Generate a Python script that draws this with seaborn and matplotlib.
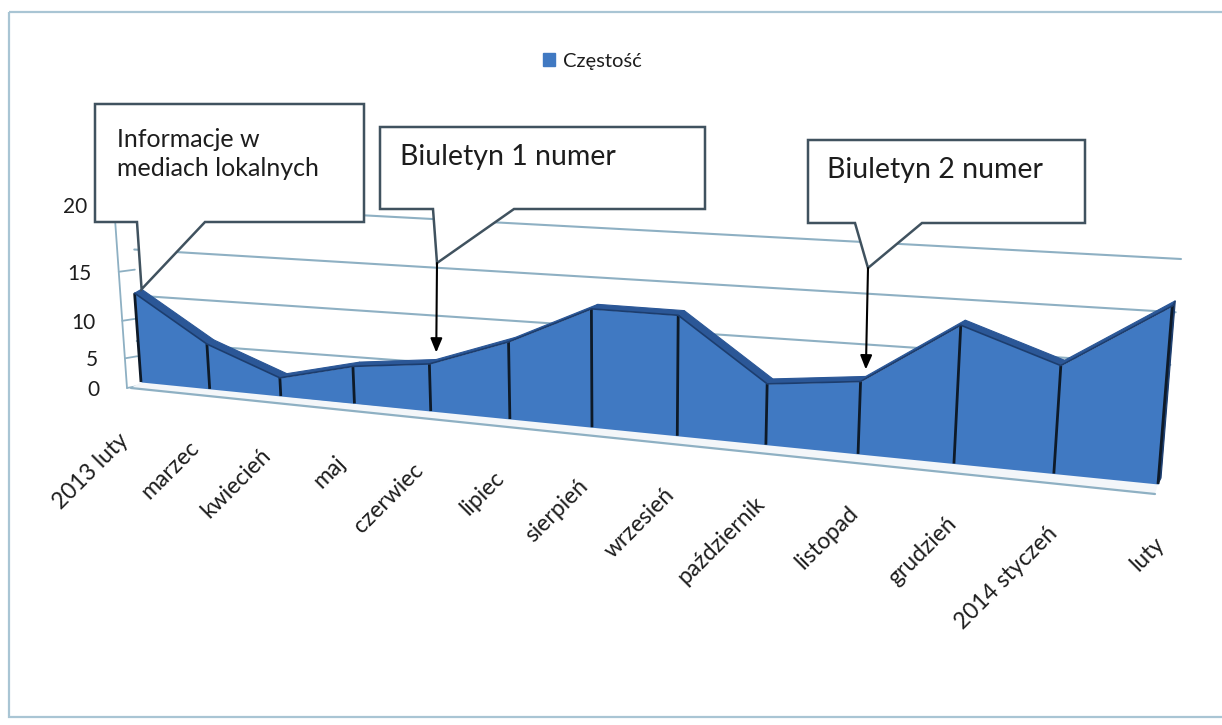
import numpy as np
import matplotlib
matplotlib.use("Agg")
import matplotlib.pyplot as plt
import seaborn as sns
from matplotlib.transforms import Transform
from matplotlib.patches import Polygon, Rectangle, Patch

# ---- data -------------------------------------------------------------
months = ["2013 luty", "marzec", "kwiecień", "maj", "czerwiec", "lipiec",
          "sierpień", "wrzesień", "październik", "listopad", "grudzień",
          "2014 styczeń", "luty"]
counts = [10, 5, 2, 4, 5, 8, 12, 12, 6, 7, 13, 10, 16]
value_ticks = [0, 5, 10, 15, 20]
series_name = "Częstość"
note_media = "Informacje w\nmediach lokalnych"
note_bul1 = "Biuletyn 1 numer"
note_bul2 = "Biuletyn 2 numer"

# ---- look -------------------------------------------------------------
sns.set_theme(style="white")
plt.rcParams["font.family"] = ["Lato", "DejaVu Sans"]

FACE = "#4079c2"
TOP = "#2b5797"
CAP = "#1c3d6e"
EDGE = "#0e1a28"
GRID = "#8eb0c3"
BOX = "#40525f"
TXT = "#1d1d1d"


class PlaneProjection(Transform):
    """Perspective (homography) mapping of a chart plane onto the page."""
    input_dims = output_dims = 2

    def __init__(self, src, dst):
        super().__init__()
        a, b = [], []
        for (x, y), (u, v) in zip(src, dst):
            a.append([x, y, 1, 0, 0, 0, -u * x, -u * y]); b.append(u)
            a.append([0, 0, 0, x, y, 1, -v * x, -v * y]); b.append(v)
        h = np.linalg.solve(np.array(a, float), np.array(b, float))
        self.M = np.append(h, 1.0).reshape(3, 3)

    def transform_non_affine(self, values):
        pts = np.asarray(values, float).reshape(-1, 2)
        q = np.column_stack([pts, np.ones(len(pts))]) @ self.M.T
        return q[:, :2] / q[:, 2:3]


n = len(months)
idx = np.arange(n)
vmax = value_ticks[-1]
box_src = [(0, 0), (n - 1, 0), (n - 1, vmax), (0, vmax)]

fig = plt.figure(figsize=(12.22, 7.25), dpi=100)
ax = fig.add_axes([0, 0, 1, 1])
ax.set_xlim(0, 1222)
ax.set_ylim(725, 0)
ax.axis("off")

# planes of the 3-D box, page positions in pixels
front = PlaneProjection(box_src, [(141, 382), (1158, 484), (1176, 260), (128, 202)])
back = PlaneProjection(box_src, [(148, 378), (1161, 478), (1179, 255), (135, 198)])
wall = PlaneProjection(box_src, [(138, 386), (1160, 468), (1181, 259), (133, 203)])
floor_edge = PlaneProjection(box_src, [(131, 388), (1155, 494), (1173, 268), (118, 208)])
side = PlaneProjection([(0, 0), (1, 0), (1, vmax), (0, vmax)],
                       [(127, 388), (138, 386), (133, 203), (114, 205)])
# anchor line for the rotated category labels
labels_line = PlaneProjection(box_src, [(118, 430), (1153, 533), (1173, 309), (105, 250)])

front_tr = front + ax.transData
back_tr = back + ax.transData
wall_tr = wall + ax.transData
side_tr = side + ax.transData
labels_tr = labels_line + ax.transData

# outer chart frame
ax.add_patch(Rectangle((9, 12), 1240, 705, fill=False, ec="#a9c5d4", lw=1.6, zorder=0))

# back wall and side wall gridlines
for v in value_ticks:
    ax.plot([0, n - 1], [v, v], transform=wall_tr, color=GRID, lw=1.5, zorder=1)
    ax.plot([0, 1], [v, v], transform=side_tr, color=GRID, lw=1.3, zorder=1)
ax.plot([0, 0], [0, vmax], transform=side_tr, color=GRID, lw=1.3, zorder=1)

# floor strip in front of the series
base_px = front.transform(np.column_stack([idx, np.zeros(n)]))
edge_px = floor_edge.transform(np.column_stack([idx, np.zeros(n)]))
ax.add_patch(Polygon(np.vstack([base_px, edge_px[::-1]]), closed=True,
                     fc="#f3f6f9", ec="none", zorder=2))
ax.plot(edge_px[:, 0], edge_px[:, 1], color=GRID, lw=1.6, zorder=2)

# ribbon top surface between front and back edges
pts = np.column_stack([idx, counts])
f_px = front.transform(pts)
b_px = back.transform(pts)
for k in range(n - 1):
    quad = np.array([f_px[k], f_px[k + 1], b_px[k + 1], b_px[k]])
    ax.add_patch(Polygon(quad, closed=True, fc=TOP, ec=TOP, lw=0.8, zorder=3))
cap = np.vstack([front.transform([(n - 1, 0), (n - 1, counts[-1])]),
                 back.transform([(n - 1, counts[-1]), (n - 1, 0)])])
ax.add_patch(Polygon(cap, closed=True, fc=CAP, ec=CAP, lw=0.8, zorder=3))

# front face of the area series
ax.fill_between(idx, 0, counts, transform=front_tr, color=FACE, lw=0, zorder=4)
ax.vlines(idx, 0, counts, transform=front_tr, colors=EDGE, lw=2.0, zorder=5)
sns.lineplot(x=idx, y=counts, ax=ax, transform=front_tr, color=CAP, lw=1.2,
             legend=False, zorder=5)
ax.set_xlim(0, 1222)
ax.set_ylim(725, 0)
ax.axis("off")

# value axis labels, set off to the left of the side wall edge
for v in value_ticks:
    x_px, y_px = side.transform([(0, v)])[0]
    ax.text(x_px - 27, y_px + 2, str(v), ha="right", va="center", fontsize=15,
            color=TXT, zorder=6)

# category labels below the floor edge
for i, name in enumerate(months):
    ax.text(i, 0, name, transform=labels_tr, rotation=45, ha="right", va="top",
            rotation_mode="anchor", fontsize=16.5, color=TXT, zorder=6)


# callouts
def callout(x0, y0, x1, y1, wl, wr, tip):
    verts = [(x0, y0), (x1, y0), (x1, y1), (wr, y1), tuple(tip), (wl, y1), (x0, y1)]
    ax.add_patch(Polygon(verts, closed=True, fc="white", ec=BOX, lw=1.8, zorder=7))


tip1 = back.transform([(0, counts[0])])[0]
callout(95, 104, 364, 222, 137, 205, tip1)
callout(380, 127, 705, 209, 433, 514, (437, 263))
callout(808, 140, 1085, 223, 855, 922, (868, 268))

ax.text(117, 154, note_media, ha="left", va="center", fontsize=18,
        color=TXT, linespacing=1.3, zorder=8)
ax.text(400, 157, note_bul1, ha="left", va="center", fontsize=20.5, color=TXT, zorder=8)
ax.text(827, 170, note_bul2, ha="left", va="center", fontsize=20.5, color=TXT, zorder=8)

arrow = dict(arrowstyle="-|>,head_length=0.6,head_width=0.25", color="black",
             lw=1.5, shrinkA=0, shrinkB=5, mutation_scale=14)
ax.annotate("", xy=(4, counts[4]), xycoords=back_tr, xytext=(437, 263),
            textcoords="data", arrowprops=arrow, zorder=8)
ax.annotate("", xy=(9, counts[9]), xycoords=back_tr, xytext=(868, 268),
            textcoords="data", arrowprops=arrow, zorder=8)

# legend
ax.legend(handles=[Patch(color=FACE, label=series_name)], loc="center",
          bbox_to_anchor=(592 / 1222, 1 - 61 / 725), frameon=False,
          handlelength=0.6, handleheight=0.6, handletextpad=0.4,
          fontsize=14.5, labelcolor=TXT)

fig.savefig("out.png", dpi=100, facecolor="white")
